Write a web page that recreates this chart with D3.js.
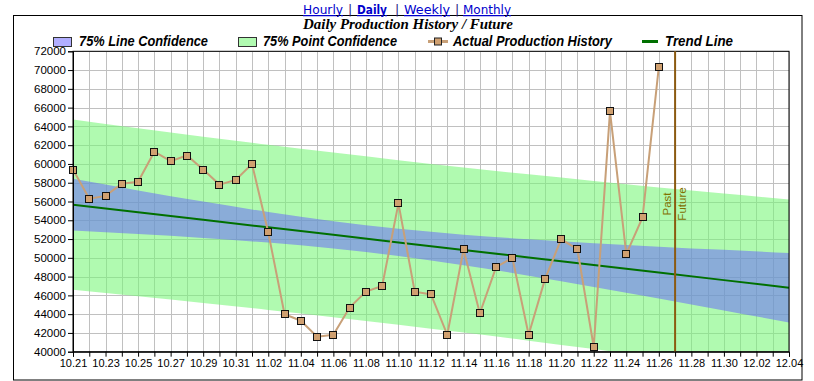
<!DOCTYPE html>
<html>
<head>
<meta charset="utf-8">
<script src="https://cdn.jsdelivr.net/npm/d3@7"></script>
<style>
  html, body { margin: 0; padding: 0; background: #fff; }
  svg { display: block; }
</style>
</head>
<body>
<svg id="chart" width="814" height="381"></svg>
<script>
// ---------- DATA ----------
const days = ["10.21","10.22","10.23","10.24","10.25","10.26","10.27","10.28","10.29","10.30","10.31",
  "11.01","11.02","11.03","11.04","11.05","11.06","11.07","11.08","11.09","11.10",
  "11.11","11.12","11.13","11.14","11.15","11.16","11.17","11.18","11.19","11.20",
  "11.21","11.22","11.23","11.24","11.25","11.26","11.27","11.28","11.29","11.30",
  "12.01","12.02","12.03","12.04"];

// Actual production history (10.21 .. 11.26)
const production = [59400,56300,56600,57900,58100,61300,60300,60900,59400,57800,58300,
  60000,52700,44000,43300,41600,41800,44700,46400,47000,55800,
  46400,46100,41800,50900,44100,49000,50000,41800,47700,52000,
  50900,40500,65600,50400,54300,70350];

// Band / trend values read at sample days
const bandDays   = ["10.21","10.25","10.29","11.02","11.06","11.10","11.14","11.18","11.22","11.26","11.30","12.04"];
const trend      = [55660,54856,54053,53249,52446,51642,50838,50035,49231,48428,47624,46820];
const lineUpper  = [58421,57182,55989,54875,53891,53087,52464,51971,51557,51189,50848,50523];
const lineLower  = [52899,52530,52117,51623,51001,50197,49212,48099,46905,45667,44400,43117];
const pointUpper = [64733,63806,62910,62044,61209,60405,59633,58892,58181,57501,56849,56223];
const pointLower = [46587,45906,45196,44454,43683,42879,42043,41178,40281,39355,38399,37417];

const futureDay = "11.27";
const yTicks = [40000,42000,44000,46000,48000,50000,52000,54000,56000,58000,60000,
  62000,64000,66000,68000,70000,72000];

const navLinks = ["Hourly","Daily","Weekly","Monthly"];
const titleText = "Daily Production History / Future";
const legendLabels = ["75% Line Confidence","75% Point Confidence","Actual Production History","Trend Line"];

// ---------- STYLE ----------
const C = {
  pointBand: "rgba(120,246,120,0.59)",
  lineBand: "rgba(100,94,255,0.5)",
  grid: "#c0c0c0",
  trend: "#007000",
  prod: "#c8a078",
  marker: "#d0a070",
  future: "#8b5a10",
  futureText: "#807000",
  link: "#0000cc"
};

const svg = d3.select("#chart");
const L = 73, R = 789, T = 51.3, B = 351.7;

const x = d3.scalePoint().domain(days).range([L, R]);
const y = d3.scaleLinear().domain([40000, 72000]).range([B, T]);

// outer frame
svg.append("rect").attr("x", 13.5).attr("y", 15.5).attr("width", 788.5).attr("height", 364.5)
  .attr("fill", "none").attr("stroke", "#000").attr("stroke-width", 1);

// nav links
const navX = [303, 357, 404, 463];
const navW = [40, 30, 46, 48];
navLinks.forEach((t, i) => {
  svg.append("text").attr("x", navX[i]).attr("y", 14)
    .attr("font-family", "DejaVu Sans, Verdana, sans-serif")
    .attr("font-size", 12.5)
    .attr("font-weight", t === "Daily" ? "bold" : "normal")
    .attr("fill", C.link)
    .attr("text-decoration", "underline")
    .attr("textLength", navW[i]).attr("lengthAdjust", "spacingAndGlyphs")
    .text(t);
});
[350, 397, 457].forEach(px => {
  svg.append("text").attr("x", px).attr("y", 14).attr("text-anchor", "middle")
    .attr("font-family", "DejaVu Sans, Verdana, sans-serif").attr("font-size", 12.5)
    .attr("fill", "#202080").text("|");
});

// title
svg.append("text").attr("x", 303).attr("y", 29)
  .attr("font-family", "Liberation Serif, Times New Roman, serif")
  .attr("font-size", 14).attr("font-weight", "bold").attr("font-style", "italic")
  .attr("textLength", 210).attr("lengthAdjust", "spacingAndGlyphs")
  .text(titleText);

// legend
const legFont = "Liberation Sans Narrow, Arial Narrow, Liberation Sans, Arial, sans-serif";
function legText(str, lx, len) {
  svg.append("text").attr("x", lx).attr("y", 46)
    .attr("font-family", legFont).attr("font-size", 14)
    .attr("font-weight", "bold").attr("font-style", "italic")
    .attr("textLength", len).attr("lengthAdjust", "spacingAndGlyphs")
    .text(str);
}
svg.append("rect").attr("x", 53.5).attr("y", 37.5).attr("width", 18).attr("height", 9)
  .attr("fill", C.lineBand).attr("stroke", "#333");
legText(legendLabels[0], 79, 129);
svg.append("rect").attr("x", 238.5).attr("y", 37.5).attr("width", 18).attr("height", 9)
  .attr("fill", C.pointBand).attr("stroke", "#333");
legText(legendLabels[1], 263, 134);
svg.append("line").attr("x1", 428).attr("x2", 448).attr("y1", 41.5).attr("y2", 41.5)
  .attr("stroke", C.prod).attr("stroke-width", 3);
svg.append("rect").attr("x", 434.5).attr("y", 38).attr("width", 7).attr("height", 7)
  .attr("fill", C.marker).attr("stroke", "#222");
legText(legendLabels[2], 453, 159);
svg.append("line").attr("x1", 642).attr("x2", 658).attr("y1", 41.5).attr("y2", 41.5)
  .attr("stroke", C.trend).attr("stroke-width", 3);
legText(legendLabels[3], 665, 68);

// clip
svg.append("clipPath").attr("id", "plotclip").append("rect")
  .attr("x", L).attr("y", T).attr("width", R - L).attr("height", B - T);

// grid
const grid = svg.append("g");
grid.selectAll("line.h").data(yTicks).join("line")
  .attr("x1", L).attr("x2", R)
  .attr("y1", d => Math.round(y(d)) + 0.5).attr("y2", d => Math.round(y(d)) + 0.5)
  .attr("stroke", C.grid).attr("stroke-width", 1);
grid.selectAll("line.v").data(days).join("line")
  .attr("x1", d => Math.round(x(d)) + 0.5).attr("x2", d => Math.round(x(d)) + 0.5)
  .attr("y1", T).attr("y2", B)
  .attr("stroke", C.grid).attr("stroke-width", 1);

// bands
const plot = svg.append("g").attr("clip-path", "url(#plotclip)");
const bandData = bandDays.map((d, i) => ({ d, tr: trend[i], lu: lineUpper[i], ll: lineLower[i], pu: pointUpper[i], pl: pointLower[i] }));
plot.append("path").datum(bandData)
  .attr("d", d3.area().x(d => x(d.d)).y0(d => y(d.pl)).y1(d => y(d.pu)).curve(d3.curveNatural))
  .attr("fill", C.pointBand);
plot.append("path").datum(bandData)
  .attr("d", d3.area().x(d => x(d.d)).y0(d => y(d.ll)).y1(d => y(d.lu)).curve(d3.curveNatural))
  .attr("fill", C.lineBand);
plot.append("path").datum(bandData)
  .attr("d", d3.line().x(d => x(d.d)).y(d => y(d.tr)))
  .attr("fill", "none").attr("stroke", C.trend).attr("stroke-width", 2);

// frame top/right
svg.append("rect").attr("x", L).attr("y", T).attr("width", R - L).attr("height", B - T)
  .attr("fill", "none").attr("stroke", "#000").attr("stroke-width", 1);

// future line
svg.append("line").attr("x1", x(futureDay)).attr("x2", x(futureDay)).attr("y1", T).attr("y2", B)
  .attr("stroke", C.future).attr("stroke-width", 2);
const fx = x(futureDay);
svg.append("text").attr("transform", `translate(${fx - 4},204) rotate(-90)`)
  .attr("text-anchor", "middle").attr("font-family", "Liberation Sans, Arial, sans-serif")
  .attr("font-size", 11.5).attr("fill", C.futureText).text("Past");
svg.append("text").attr("transform", `translate(${fx + 11},204) rotate(-90)`)
  .attr("text-anchor", "middle").attr("font-family", "Liberation Sans, Arial, sans-serif")
  .attr("font-size", 11.5).attr("fill", C.futureText).text("Future");

// production line
const prodData = production.map((v, i) => ({ d: days[i], v }));
svg.append("path").datum(prodData)
  .attr("d", d3.line().x(d => x(d.d)).y(d => y(d.v)))
  .attr("fill", "none").attr("stroke", C.prod).attr("stroke-width", 2);
svg.selectAll("rect.pt").data(prodData).join("rect").attr("class", "pt")
  .attr("x", d => Math.round(x(d.d)) - 3.5).attr("y", d => Math.round(y(d.v)) - 3.5)
  .attr("width", 7).attr("height", 7)
  .attr("fill", C.marker).attr("stroke", "#111").attr("stroke-width", 1);

// axes
const xAxis = d3.axisBottom(x).tickSize(5).tickPadding(3)
  .tickFormat((d, i) => i % 2 === 0 ? d : "");
const gx = svg.append("g").attr("transform", `translate(0,${B})`).call(xAxis);
gx.select(".domain").attr("stroke", "#000");
gx.selectAll("text").attr("font-family", "Liberation Sans, Arial, sans-serif").attr("font-size", 11).attr("fill", "#000");

const yAxis = d3.axisLeft(y).tickValues(yTicks).tickSize(5).tickPadding(2).tickFormat(d3.format("d"));
const gy = svg.append("g").attr("transform", `translate(${L},0)`).call(yAxis);
gy.selectAll("text").attr("font-family", "Liberation Sans, Arial, sans-serif").attr("font-size", 11.5).attr("fill", "#000");
</script>
</body>
</html>
